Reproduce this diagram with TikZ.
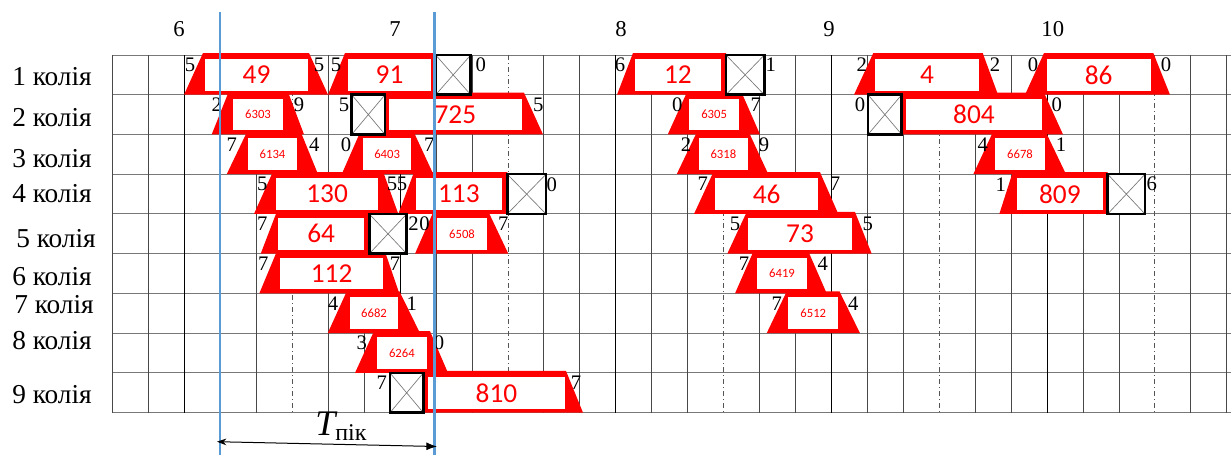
\documentclass[tikz,border=0pt]{standalone}
\usepackage{fontspec}
\setmainfont{Liberation Serif}
\newfontfamily\carl{Carlito}
\usetikzlibrary{arrows.meta}
\definecolor{trainred}{RGB}{255,0,0}
\definecolor{pikblue}{RGB}{91,155,213}
\definecolor{gridgray}{RGB}{120,120,120}
\newcommand\rowT[1]{\pgfmathsetmacro\T{55+39.74*(#1-1)}\pgfmathsetmacro\B{\T+39.74}}
% row, xl, a, wl, wr, b, xr, label, style
\newcommand\trn[9]{\rowT{#1}%
  \fill[trainred] (#2,\B) -- (#3,\T-2) -- (#6,\T-2) -- (#7,\B) -- cycle;
  \fill[white] (#4,\T+4) rectangle (#5,\B-4);
  \node[#9] at ({(#4+#5)/2},{(\T+\B)/2}) {#8};}
\newcommand\xbx[3]{\rowT{#1}%
  \fill[white] (#2,\T) rectangle (#3,\B);
  \draw[gridgray,line width=0.5pt] (#2,\T) -- (#3,\B) (#2,\B) -- (#3,\T);
  \draw[black,line width=1.9pt] (#2,\T) rectangle (#3,\B);}
\newcommand\dg[3]{\rowT{#1}\node[trdig] at (#2,\T+10) {#3};}
\begin{document}
\begin{tikzpicture}[x=0.75pt,y=-0.75pt,
  trbig/.style={text=trainred,font=\carl\fontsize{20.5}{20.5}\selectfont,inner sep=0pt},
  trsmall/.style={text=trainred,font=\carl\fontsize{9.5}{9.5}\selectfont,inner sep=0pt},
  trdig/.style={font=\fontsize{15.5}{15.5}\selectfont,inner sep=0pt},
  rowlab/.style={font=\fontsize{20.5}{20.5}\selectfont,inner sep=0pt,anchor=base west},
  hourlab/.style={font=\fontsize{17}{17}\selectfont,inner sep=0pt,anchor=base},
  gridv/.style={gridgray!60!black,line width=0.75pt},
  gridh/.style={gridgray,line width=0.75pt},
  hourline/.style={black,line width=0.85pt},
  halfline/.style={gridgray!70!black,line width=0.75pt,dash pattern=on 4pt off 2pt on 1pt off 2pt},
  pikline/.style={pikblue,line width=2.2pt}]
\useasboundingbox (0,0) rectangle (1231,455);
% grid
\foreach \r in {0,...,9}{
  \pgfmathsetmacro\yy{55+39.74*\r}
  \draw[gridh] (112.7,\yy) -- (1231,\yy);}
\foreach \k in {0,...,31}{
  \pgfmathsetmacro\xx{112.7+35.94*\k}
  \pgfmathtruncatemacro\m{mod(\k,6)}
  \ifnum\m=2 \draw[hourline] (\xx,55) -- (\xx,412.66);
  \else\ifnum\m=5 \draw[halfline] (\xx,55) -- (\xx,412.66);
  \else \draw[gridv] (\xx,55) -- (\xx,412.66);\fi\fi}
% hour labels
\node[hourlab] (h6) at (179,36.7) {6};
\node[hourlab] (h7) at (395,36.7) {7};
\node[hourlab] (h8) at (621,36.7) {8};
\node[hourlab] (h9) at (829,36.7) {9};
\node[hourlab] (h10) at (1052.8,36.7) {10};
% row labels
\node[rowlab] (r1) at (12,85) {1 колія};
\node[rowlab] (r2) at (12,126) {2 колія};
\node[rowlab] (r3) at (12,167) {3 колія};
\node[rowlab] (r4) at (12,202) {4 колія};
\node[rowlab] (r5) at (16,247) {5 колія};
\node[rowlab] (r6) at (12,285) {6 колія};
\node[rowlab] (r7) at (14,313) {7 колія};
\node[rowlab] (r8) at (12,349) {8 колія};
\node[rowlab] (r9) at (12,403) {9 колія};
% trains
\trn{1}{184}{203}{205}{308}{309}{328}{49}{trbig}
\trn{1}{328}{345}{348}{431}{435.5}{435.5}{91}{trbig}
\trn{1}{617}{633}{635}{720.7}{726}{726}{12}{trbig}
\trn{1}{854}{873.3}{875}{979}{982.7}{998}{4}{trbig}
\trn{1}{1025}{1044}{1046.7}{1150.7}{1153.3}{1170}{86}{trbig}
\trn{2}{211.7}{228.3}{232.7}{283.3}{288.3}{304}{6303}{trsmall}
\trn{2}{385}{385}{389}{521.7}{524}{543}{725}{trbig}
\trn{2}{667.7}{686.7}{689.3}{739}{741.7}{760}{6305}{trsmall}
\trn{2}{902}{902}{906}{1042}{1044}{1063}{804}{trbig}
\trn{3}{226.7}{246.7}{248}{297}{301}{318}{6134}{trsmall}
\trn{3}{341.7}{360}{363.3}{411}{414}{433.3}{6403}{trsmall}
\trn{3}{676.7}{696.7}{699}{747.7}{749}{768.3}{6318}{trsmall}
\trn{3}{973.3}{992.7}{995}{1045}{1046}{1066}{6678}{trsmall}
\trn{4}{254}{272.7}{276}{378.3}{383.3}{398.3}{130}{trbig}
\trn{4}{398.3}{414}{416}{501.7}{507.3}{507.3}{113}{trbig}
\trn{4}{694}{713.3}{715}{818.3}{820}{838.3}{46}{trbig}
\trn{4}{999.3}{1012.7}{1017}{1102.7}{1107.7}{1107.7}{809}{trbig}
\trn{5}{260.7}{276.7}{278.3}{364}{369.3}{369.3}{64}{trbig}
\trn{5}{415}{433.3}{436.7}{487.3}{488.5}{508.3}{6508}{trsmall}
\trn{5}{727.3}{746.7}{748.3}{851.7}{855}{871.7}{73}{trbig}
\trn{6}{259.3}{276.7}{280}{383.3}{385}{399.3}{112}{trbig}
\trn{6}{735}{753.3}{756.7}{807.3}{808.5}{826.7}{6419}{trsmall}
\trn{7}{327.7}{346.7}{350}{398}{399.5}{420}{6682}{trsmall}
\trn{7}{766.7}{786.7}{788.3}{838.3}{839.5}{860}{6512}{trsmall}
\trn{8}{355}{374}{377}{426.7}{430}{448}{6264}{trsmall}
\trn{9}{424}{424}{428}{565}{566}{583}{810}{trbig}
% crossed boxes
\xbx{1}{435.7}{470.7}
\xbx{1}{726}{764.3}
\xbx{2}{351.7}{385}
\xbx{2}{868}{901.7}
\xbx{4}{507.3}{546}
\xbx{4}{1107.7}{1145}
\xbx{5}{369.3}{406.7}
\xbx{9}{390}{423.3}
% digits
\dg{1}{190}{5}\dg{1}{319}{5}\dg{1}{336}{5}\dg{1}{480.7}{0}\dg{1}{620}{6}
\dg{1}{770.7}{1}\dg{1}{861.7}{2}\dg{1}{995}{2}\dg{1}{1033}{0}\dg{1}{1166}{0}
\dg{2}{216.7}{2}\dg{2}{299}{9}\dg{2}{344}{5}\dg{2}{538.3}{5}\dg{2}{677.3}{0}
\dg{2}{755.7}{7}\dg{2}{860}{0}\dg{2}{1056.7}{0}
\dg{3}{231.7}{7}\dg{3}{314.3}{4}\dg{3}{346}{0}\dg{3}{429.3}{7}\dg{3}{686}{2}
\dg{3}{764}{9}\dg{3}{982.7}{4}\dg{3}{1061}{1}
\dg{4}{262.3}{5}\dg{4}{392}{5}\dg{4}{402}{5}\dg{4}{551.7}{0}\dg{4}{702.7}{7}
\dg{4}{835}{7}\dg{4}{1000.7}{1}\dg{4}{1151.7}{6}
\dg{5}{262.3}{7}\dg{5}{413.5}{2}\dg{5}{424.5}{0}\dg{5}{503.3}{7}\dg{5}{735}{5}\dg{5}{867.7}{5}
\dg{6}{263.3}{7}\dg{6}{395}{7}\dg{6}{744}{7}\dg{6}{822.7}{4}
\dg{7}{333}{4}\dg{7}{411.7}{1}\dg{7}{776.7}{7}\dg{7}{853.3}{4}
\dg{8}{361.7}{3}\dg{8}{439}{0}
\dg{9}{381.7}{7}\dg{9}{576}{7}
% peak period
\draw[pikline] (220,12) -- (220,455);
\draw[pikline] (434.5,12) -- (434.5,455);
\coordinate (tl) at (217,441.7);
\coordinate (tr) at (437,446.5);
\draw[black,line width=0.75pt,{Stealth[length=7pt,width=5pt]}-{Latex[length=8pt,width=6pt]}] (tl) -- (tr);
\node[inner sep=0pt,anchor=base west] (tpik) at (315,435)
  {{\fontsize{27}{27}\selectfont\itshape T}\raisebox{-4.3pt}{\fontsize{18}{18}\selectfont пік}};
\end{tikzpicture}
\end{document}
